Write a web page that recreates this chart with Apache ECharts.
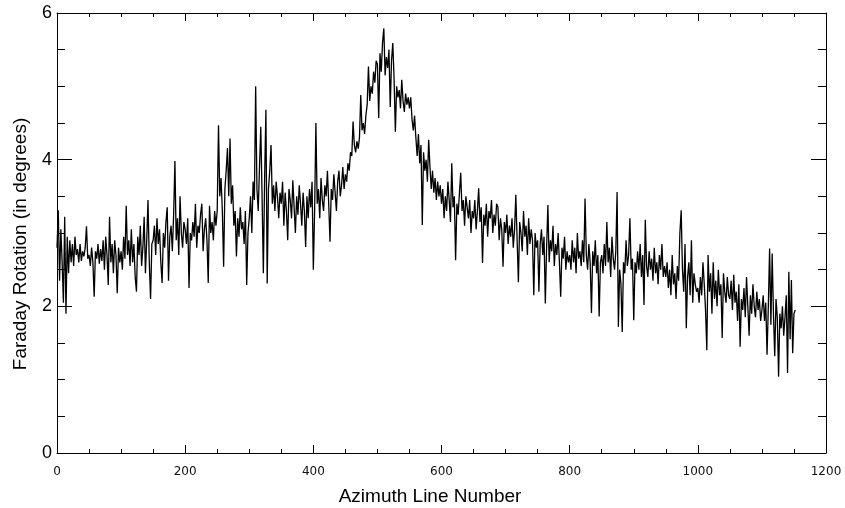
<!DOCTYPE html>
<html>
<head>
<meta charset="utf-8">
<script src="https://cdn.jsdelivr.net/npm/echarts@6/dist/echarts.min.js"></script>
<style>
html,body{margin:0;padding:0;background:#fff;}
#chart{width:845px;height:508px;}
</style>
</head>
<body>
<div id="chart"></div>
<script>
// Azimuth line numbers advance in steps of this size, starting at 0
const azimuthStep = 2;
// Faraday rotation (degrees), one value per sampled azimuth line
const faradayRotation = [
  // 0-48
  2.8, 3.31, 2.35, 3.05, 2.6, 2.05, 3.22, 1.9, 2.95, 2.45, 2.9, 2.6, 2.85, 2.55, 2.95, 2.7, 2.78, 2.6, 2.85, 2.62, 2.75, 2.68, 2.8, 3.09, 2.65,
  // 50-98
  2.7, 2.55, 2.8, 2.6, 2.13, 2.75, 2.65, 2.85, 2.58, 2.78, 2.62, 2.9, 2.5, 2.95, 2.7, 2.29, 3.22, 2.6, 2.85, 2.45, 2.9, 2.7, 2.18, 2.8, 2.6,
  // 100-148
  2.75, 2.5, 2.95, 2.65, 3.37, 2.7, 2.9, 2.55, 3.05, 2.6, 2.85, 2.4, 2.2, 2.95, 2.7, 3.1, 2.55, 2.8, 3.22, 2.45, 2.9, 3.45, 2.6, 2.1, 2.85,
  // 150-198
  2.9, 3.1, 2.7, 3.2, 2.85, 3.05, 2.6, 2.32, 3.0, 2.8, 3.15, 3.35, 2.35, 2.95, 3.1, 2.75, 3.25, 3.98, 2.9, 3.2, 2.7, 3.5, 3.0, 2.8, 3.15,
  // 200-248
  3.05, 2.85, 3.2, 2.25, 3.0, 2.9, 3.15, 2.95, 3.4, 2.8, 3.1, 3.0, 3.25, 3.4, 2.75, 3.05, 3.2, 2.9, 2.32, 3.37, 3.0, 3.15, 2.9, 3.3, 3.1,
  // 250-298
  3.3, 4.47, 3.5, 3.75, 3.3, 2.54, 3.6, 3.85, 4.16, 3.5, 4.29, 3.4, 3.65, 3.1, 3.3, 2.68, 3.2, 2.95, 3.35, 3.05, 3.15, 2.85, 3.3, 2.29, 3.0,
  // 300-348
  3.2, 3.5, 3.0, 3.7, 3.45, 5.0, 3.6, 3.3, 3.9, 4.45, 3.5, 2.45, 3.75, 4.68, 2.31, 3.6, 3.85, 4.2, 3.4, 3.65, 3.3, 3.7, 3.5, 3.2, 3.55,
  // 350-398
  3.4, 3.7, 3.1, 3.55, 3.3, 2.9, 3.6, 3.45, 3.2, 3.72, 3.35, 3.0, 3.5, 3.25, 3.65, 3.4, 3.1, 3.55, 3.3, 2.81, 3.5, 3.2, 3.6, 3.35, 3.7,
  // 400-448
  2.5, 3.3, 4.5, 3.4, 3.6, 3.2, 3.75, 3.45, 3.3, 3.65, 3.5, 3.85, 3.4, 2.88, 3.6, 3.45, 3.8, 3.55, 3.3, 3.7, 3.85, 3.5, 3.65, 3.9, 3.6,
  // 450-498
  3.8, 3.7, 3.95, 3.85, 4.1, 4.05, 4.52, 4.2, 4.1, 4.25, 4.15, 4.3, 4.88, 4.4, 4.5, 4.35, 4.6, 4.75, 5.27, 4.8, 5.0, 4.9, 5.2, 5.05, 5.35,
  // 500-548
  5.3, 4.57, 5.45, 5.2, 5.6, 5.79, 5.15, 5.4, 5.25, 5.5, 4.72, 5.35, 5.59, 5.1, 4.38, 5.0, 4.85, 4.95, 4.7, 5.09, 4.8, 4.65, 4.9, 4.75, 4.85,
  // 550-598
  4.7, 4.85, 4.55, 4.4, 4.6, 4.3, 4.05, 4.35, 3.95, 4.2, 3.11, 4.1, 3.85, 4.0, 3.7, 4.27, 3.9, 3.6, 3.85, 3.55, 3.75, 3.45, 3.7, 3.5, 3.65,
  // 600-648
  3.4, 3.6, 3.2, 3.5, 3.3, 3.7, 3.45, 3.15, 3.95, 3.35, 3.5, 2.63, 3.4, 3.25, 3.55, 3.82, 3.3, 3.45, 3.1, 3.5, 3.35, 3.2, 3.45, 3.0, 3.3,
  // 650-698
  3.2, 3.45, 3.05, 3.3, 3.61, 3.15, 3.35, 2.59, 3.25, 3.1, 3.4, 2.95, 3.3, 3.2, 3.45, 3.0, 3.25, 3.1, 3.4, 3.35, 2.9, 3.2, 3.05, 2.54, 3.15,
  // 700-748
  3.0, 3.25, 2.85, 3.1, 2.95, 3.2, 2.8, 3.05, 3.52, 2.9, 2.33, 3.15, 3.0, 2.75, 3.3, 2.95, 3.1, 2.7, 3.2, 2.85, 3.05, 2.9, 2.15, 3.0, 2.8,
  // 750-798
  2.9, 2.2, 2.85, 3.05, 2.7, 2.95, 2.04, 2.8, 3.38, 2.6, 2.9, 2.75, 3.1, 2.55, 2.85, 2.7, 3.0, 2.6, 2.13, 2.8, 2.65, 2.95, 2.5, 2.75, 2.6,
  // 800-848
  2.7, 2.5, 2.9, 2.6, 2.8, 2.45, 3.0, 2.65, 2.75, 2.55, 2.9, 2.6, 3.47, 2.7, 2.5, 2.85, 2.6, 1.91, 2.75, 2.55, 2.9, 2.45, 2.7, 1.86, 2.6,
  // 850-898
  2.7, 2.45, 2.85, 2.55, 3.15, 2.6, 2.8, 2.4, 2.95, 2.65, 2.5, 2.75, 3.56, 1.72, 2.5, 2.3, 1.65, 2.6, 2.45, 2.9, 2.55, 2.7, 3.2, 2.5, 2.65,
  // 900-948
  1.81, 2.6, 2.45, 2.75, 2.5, 2.85, 2.4, 2.7, 2.02, 3.18, 2.55, 2.4, 2.75, 2.5, 2.65, 2.35, 2.8, 2.45, 2.6, 2.3, 2.7, 2.5, 2.85, 2.4, 2.55,
  // 950-998
  2.4, 2.6, 2.25, 2.5, 2.15, 2.7, 2.3, 2.45, 2.1, 2.55, 2.35, 3.0, 3.31, 2.5, 2.2, 2.85, 1.7, 2.4, 2.6, 2.15, 2.9, 2.05, 2.45, 2.3, 2.2,
  // 1000-1048
  2.25, 2.05, 2.4, 2.15, 2.6, 2.3, 1.95, 1.4, 2.7, 2.2, 2.45, 1.9, 2.6, 2.1, 2.35, 2.0, 2.5, 2.15, 2.3, 1.57, 2.45, 2.2, 2.05, 2.4, 2.15,
  // 1050-1098
  2.1, 2.35, 1.95, 2.43, 2.05, 2.2, 1.8, 2.3, 1.45, 2.1, 1.95, 2.25, 1.85, 2.4, 2.0, 1.6, 2.15, 1.9, 2.3, 2.0, 1.85, 2.2, 1.95, 2.1, 1.8,
  // 1100-1152
  1.95, 2.15, 1.8, 2.05, 1.34, 2.0, 2.79, 1.75, 2.72, 1.9, 1.32, 2.1, 1.85, 1.04, 1.9, 1.7, 2.0, 1.6, 1.85, 2.15, 1.09, 2.47, 1.55, 2.36, 1.36, 1.9, 1.95
];
const xRange = [0, 1200];
const xTickInterval = 200;
const yRange = [0, 6];
const yTickInterval = 2;
const xTitle = 'Azimuth Line Number';
const yTitle = 'Faraday Rotation (in degrees)';

const seriesData = faradayRotation.map((v, i) => [i * azimuthStep, v]);

const chart = echarts.init(document.getElementById('chart'), null, {renderer: 'canvas'});
const black = '#000';
function xAxisDef(pos, showLabel, name) {
  return {
    type: 'value', position: pos, min: xRange[0], max: xRange[1], interval: xTickInterval,
    name: name || '', nameLocation: 'middle', nameGap: 34,
    nameTextStyle: {fontFamily: 'Liberation Sans', fontSize: 19, color: black, padding: [0, 23, 0, 0]},
    axisLine: {show: true, onZero: false, lineStyle: {color: black, width: 1}},
    axisTick: {show: true, inside: true, length: 8, lineStyle: {color: black}},
    minorTick: {show: true, splitNumber: 4, length: 4, lineStyle: {color: black}},
    axisLabel: {show: showLabel, margin: 13, fontFamily: 'DejaVu Sans', fontSize: 12, color: '#111',
      formatter: v => String(v)},
    splitLine: {show: false}, minorSplitLine: {show: false}
  };
}
function yAxisDef(pos, showLabel, name) {
  return {
    type: 'value', position: pos, min: yRange[0], max: yRange[1], interval: yTickInterval,
    name: name || '', nameLocation: 'middle', nameGap: 27,
    nameTextStyle: {fontFamily: 'Liberation Sans', fontSize: 19, color: black, padding: [0, 22, 0, 0]},
    axisLine: {show: true, onZero: false, lineStyle: {color: black, width: 1}},
    axisTick: {show: true, inside: true, length: 15, lineStyle: {color: black}},
    minorTick: {show: true, splitNumber: 4, length: 8, lineStyle: {color: black}},
    axisLabel: {show: showLabel, margin: 5, fontFamily: 'Liberation Sans', fontSize: 18, color: black,
      formatter: v => String(v)},
    splitLine: {show: false}, minorSplitLine: {show: false}
  };
}
chart.setOption({
  animation: false,
  backgroundColor: '#fff',
  grid: {left: 57, right: 19, top: 13, bottom: 55, containLabel: false, outerBoundsMode: 'none'},
  xAxis: [xAxisDef('bottom', true, xTitle), xAxisDef('top', false)],
  yAxis: [yAxisDef('left', true, yTitle), yAxisDef('right', false)],
  series: [{
    type: 'line', xAxisIndex: 0, yAxisIndex: 0,
    data: seriesData, showSymbol: false, symbol: 'none', sampling: null,
    lineStyle: {color: black, width: 1.3}, silent: true
  }]
});
</script>
</body>
</html>
